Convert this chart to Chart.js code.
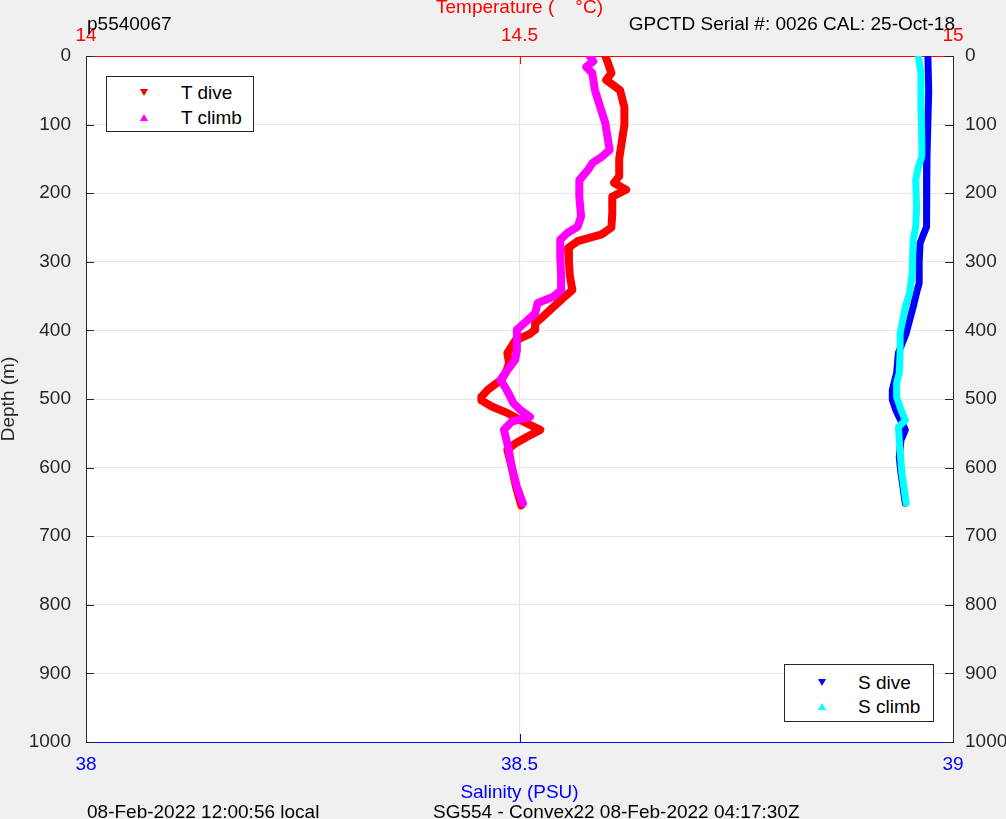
<!DOCTYPE html>
<html>
<head>
<meta charset="utf-8">
<script src="https://cdn.jsdelivr.net/npm/chart.js@4.4.1/dist/chart.umd.min.js"></script>
<style>
  body { margin: 0; background: #f0f0f0; font-family: 'Liberation Sans', Arial, sans-serif; }
  #wrap { position: relative; width: 1006px; height: 819px; }
  #chart { position: absolute; left: 0; top: 0; }
  .note { position: absolute; font-size: 19px; line-height: 19px; color: #000; white-space: pre; }
  .legend { position: absolute; background: #fff; border: 1px solid #262626; box-sizing: border-box; }
  .legend span { position: absolute; font-size: 19px; line-height: 19px; color: #000; white-space: pre; }
  .tri { position: absolute; width: 0; height: 0; border-left: 4px solid transparent; border-right: 4px solid transparent; }
  .down { border-top: 7px solid; }
  .up { border-bottom: 7px solid; }
</style>
</head>
<body>
<div id="wrap">
  <canvas id="chart" width="1006" height="819"></canvas>

  <div class="note" style="left:87px; top:14px;">p5540067</div>
  <div class="note" style="right:51px; top:14px;">GPCTD Serial #: 0026 CAL: 25-Oct-18</div>
  <div class="note" style="left:87px; top:802px;">08-Feb-2022 12:00:56 local</div>
  <div class="note" style="left:433px; top:802px;">SG554 - Convex22 08-Feb-2022 04:17:30Z</div>

  <div class="legend" style="left:106px; top:76px; width:148px; height:56px;">
    <div class="tri down" style="left:33px; top:12px; border-top-color:#ff0000;"></div>
    <span style="left:74px; top:6px;">T dive</span>
    <div class="tri up" style="left:33px; top:37px; border-bottom-color:#ff00ff;"></div>
    <span style="left:74px; top:31px;">T climb</span>
  </div>

  <div class="legend" style="left:784px; top:664px; width:150px; height:58px;">
    <div class="tri down" style="left:33px; top:14px; border-top-color:#0000ff;"></div>
    <span style="left:73px; top:8px;">S dive</span>
    <div class="tri up" style="left:33px; top:38px; border-bottom-color:#00ffff;"></div>
    <span style="left:73px; top:32px;">S climb</span>
  </div>
</div>

<script>
// tick labels
const depthTicks = [0, 100, 200, 300, 400, 500, 600, 700, 800, 900, 1000];
const tempTicks = [14, 14.5, 15];
const salTicks = [38, 38.5, 39];

// temperature, dive
const tDiveDepth = [0, 10, 25, 35, 50, 75, 100, 125, 150, 175, 185, 195, 205, 230, 250, 260, 270, 280, 300, 320,
  341, 351, 366, 380, 390, 399, 405, 415, 433, 448, 462, 472, 487, 497, 502, 511, 521, 531, 545, 555,
  565, 574, 599, 628, 655];
const tDiveTemp = [14.599, 14.602, 14.606, 14.600, 14.616, 14.621, 14.621, 14.618, 14.615, 14.615, 14.609, 14.623, 14.607, 14.607, 14.606, 14.595, 14.567, 14.556, 14.557, 14.558,
  14.561, 14.552, 14.539, 14.527, 14.518, 14.518, 14.512, 14.495, 14.486, 14.488, 14.484, 14.479, 14.463, 14.456, 14.456, 14.468, 14.487, 14.501, 14.524, 14.509,
  14.495, 14.486, 14.491, 14.496, 14.502];

// temperature, climb
const tClimbDepth = [0, 8, 16, 25, 50, 74, 98, 122, 137, 147, 156, 166, 181, 205, 234, 249, 258, 268, 293, 320,
  341, 351, 360, 375, 389, 399, 414, 429, 443, 458, 472, 482, 491, 506, 516, 526, 533, 545, 570, 599,
  628, 652];
const tClimbTemp = [14.581, 14.585, 14.577, 14.584, 14.587, 14.593, 14.599, 14.602, 14.604, 14.595, 14.584, 14.579, 14.569, 14.569, 14.571, 14.567, 14.555, 14.547, 14.547, 14.548,
  14.548, 14.539, 14.521, 14.518, 14.506, 14.497, 14.497, 14.497, 14.495, 14.486, 14.478, 14.483, 14.487, 14.493, 14.501, 14.512, 14.491, 14.482, 14.487, 14.491,
  14.497, 14.504];

// salinity, dive
const sDiveDepth = [0, 50, 98, 147, 220, 249, 263, 273, 300, 331, 345, 366, 385, 404, 433, 462, 487, 501, 516, 545, 560, 585, 608, 652];
const sDiveSal = [38.971, 38.972, 38.971, 38.970, 38.970, 38.969, 38.965, 38.962, 38.961, 38.961, 38.958, 38.954, 38.950, 38.946, 38.937, 38.935, 38.930, 38.930, 38.934, 38.945, 38.940, 38.938, 38.940, 38.945];

// salinity, climb
const sClimbDepth = [0, 25, 74, 122, 147, 161, 181, 220, 249, 268, 316, 345, 366, 385, 404, 433, 462, 477, 497, 516, 531, 541, 560, 608, 652];
const sClimbSal = [38.960, 38.963, 38.963, 38.964, 38.964, 38.960, 38.957, 38.958, 38.957, 38.954, 38.953, 38.950, 38.945, 38.942, 38.939, 38.939, 38.938, 38.935, 38.935, 38.940, 38.945, 38.937, 38.938, 38.941, 38.946];

const FONT = { family: "'Liberation Sans', Arial, sans-serif", size: 19 };
const TITLE_FONT = { family: "'Liberation Sans', Arial, sans-serif", size: 19, lineHeight: 1 };
const AXIS_GRAY = '#262626';

function points(xs, ys) {
  return xs.map((x, i) => ({ x, y: ys[i] }));
}

function setTicks(list) {
  return (scale) => { scale.ticks = list.map((v) => ({ value: v })); };
}

const plain = (v) => String(v);

function profile(label, values, depths, color, axis, width, order) {
  return {
    label,
    data: points(values, depths),
    xAxisID: axis,
    yAxisID: 'y',
    showLine: true,
    borderColor: color,
    backgroundColor: color,
    borderWidth: width,
    borderJoinStyle: 'round',
    borderCapStyle: 'round',
    pointRadius: 0,
    order
  };
}

// white plot area + inward tick marks like the original
const axesDecor = {
  id: 'axesDecor',
  beforeDraw(chart) {
    const { ctx, chartArea: a } = chart;
    ctx.save();
    ctx.fillStyle = '#ffffff';
    ctx.fillRect(a.left, a.top, a.right - a.left, a.bottom - a.top);
    ctx.restore();
  },
  afterDraw(chart) {
    const { ctx, chartArea: a, scales } = chart;
    ctx.save();
    ctx.lineWidth = 1;
    ctx.strokeStyle = AXIS_GRAY;
    depthTicks.forEach((d) => {
      const y = Math.round(scales.y.getPixelForValue(d)) + 0.5;
      ctx.beginPath();
      ctx.moveTo(a.left, y); ctx.lineTo(a.left + 8, y);
      ctx.moveTo(a.right, y); ctx.lineTo(a.right - 8, y);
      ctx.stroke();
    });
    const xt = Math.round(scales.x2.getPixelForValue(14.5)) + 0.5;
    ctx.strokeStyle = '#ff0000';
    ctx.beginPath(); ctx.moveTo(xt, a.top); ctx.lineTo(xt, a.top + 8); ctx.stroke();
    const xb = Math.round(scales.x.getPixelForValue(38.5)) + 0.5;
    ctx.strokeStyle = '#0000ff';
    ctx.beginPath(); ctx.moveTo(xb, a.bottom); ctx.lineTo(xb, a.bottom - 8); ctx.stroke();
    ctx.restore();
  }
};

new Chart(document.getElementById('chart'), {
  type: 'scatter',
  data: {
    datasets: [
      profile('T climb', tClimbTemp, tClimbDepth, '#ff00ff', 'x2', 8, 0),
      profile('T dive', tDiveTemp, tDiveDepth, '#ff0000', 'x2', 8, 1),
      profile('S climb', sClimbSal, sClimbDepth, '#00ffff', 'x', 7, 2),
      profile('S dive', sDiveSal, sDiveDepth, '#0000ff', 'x', 7, 3)
    ]
  },
  options: {
    responsive: false,
    animation: false,
    layout: { padding: 0 },
    plugins: { legend: { display: false }, tooltip: { enabled: false } },
    scales: {
      x: {
        type: 'linear', position: 'bottom', min: 38, max: 39,
        afterBuildTicks: setTicks(salTicks),
        afterFit: (s) => { s.height = 77; },
        ticks: { color: '#0000ff', font: FONT, padding: 11, maxRotation: 0, callback: plain },
        grid: { drawTicks: false, color: (c) => (c.tick && c.tick.value === 38.5 ? '#ffd8d8' : 'rgba(0,0,0,0)') },
        border: { color: '#0000ff' },
        title: { display: true, text: 'Salinity (PSU)', color: '#0000ff', font: TITLE_FONT, padding: { top: 0, bottom: 17 } }
      },
      x2: {
        type: 'linear', position: 'top', min: 14, max: 15,
        afterBuildTicks: setTicks(tempTicks),
        afterFit: (s) => { s.height = 56; },
        ticks: { color: '#ff0000', font: FONT, padding: 9, maxRotation: 0, callback: plain },
        grid: { display: false, drawTicks: false },
        border: { color: '#ff0000' },
        title: { display: true, text: 'Temperature (    °C)', color: '#ff0000', font: TITLE_FONT, padding: { top: -2, bottom: 0 } }
      },
      y: {
        type: 'linear', position: 'left', min: 0, max: 1000, reverse: true,
        afterBuildTicks: setTicks(depthTicks),
        afterFit: (s) => { s.width = 86; },
        ticks: { color: AXIS_GRAY, font: FONT, padding: 15, callback: plain },
        grid: { drawTicks: false, color: (c) => (c.tick && (c.tick.value === 0 || c.tick.value === 1000) ? 'rgba(0,0,0,0)' : '#e6e6e6') },
        border: { color: AXIS_GRAY },
        title: { display: true, text: 'Depth (m)', color: AXIS_GRAY, font: TITLE_FONT, padding: { top: -1, bottom: 0 } }
      },
      y2: {
        type: 'linear', position: 'right', min: 0, max: 1000, reverse: true,
        afterBuildTicks: setTicks(depthTicks),
        afterFit: (s) => { s.width = 53; },
        ticks: { color: AXIS_GRAY, font: FONT, padding: 12, callback: plain },
        grid: { display: false, drawTicks: false },
        border: { color: AXIS_GRAY }
      }
    }
  },
  plugins: [axesDecor]
});
</script>
</body>
</html>
